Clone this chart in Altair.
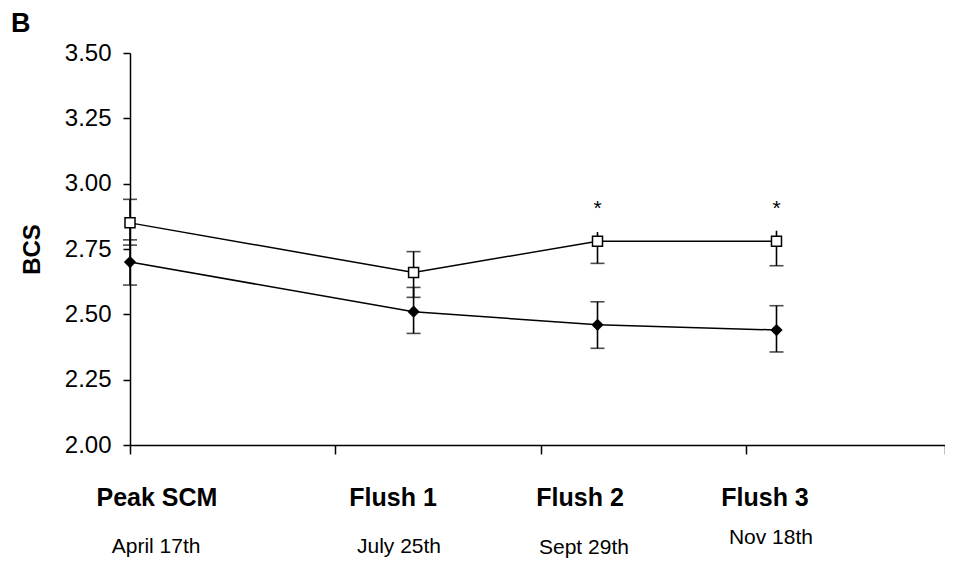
import altair as alt
import pandas as pd

# ---- data ----
timepoints = ["Peak SCM", "Flush 1", "Flush 2", "Flush 3"]
dates = ["April 17th", "July 25th", "Sept 29th", "Nov 18th"]
x_pos = [0.0, 1.38, 2.275, 3.146]          # position of each time point on the x axis

open_mean = [2.85, 2.66, 2.78, 2.78]
open_upper = [2.94, 2.74, 2.815, 2.82]
open_lower = [2.765, 2.565, 2.695, 2.686]

filled_mean = [2.70, 2.51, 2.46, 2.44]
filled_upper = [2.785, 2.603, 2.548, 2.533]
filled_lower = [2.612, 2.427, 2.37, 2.356]

significance = ["", "", "*", "*"]

y_ticks = [2.00, 2.25, 2.50, 2.75, 3.00, 3.25, 3.50]
x_ticks = [0, 1, 2, 3, 3.966]

# ---- label layout (axis units / pixel offsets) ----
label_x = [0.131, 1.28, 2.19, 3.09]
date_x = [0.127, 1.309, 2.209, 3.119]
date_dy = [0, 0, 1, -9]

FONT = "Liberation Sans"

rows = []
for name, m, u, l in [("open", open_mean, open_upper, open_lower),
                      ("filled", filled_mean, filled_upper, filled_lower)]:
    for i in range(len(timepoints)):
        rows.append({"series": name, "time": timepoints[i], "x": x_pos[i],
                     "mean": m[i], "upper": u[i], "lower": l[i]})
df = pd.DataFrame(rows)

caps = []
for r in rows:
    caps.append({"x": r["x"], "cap": r["lower"]})
    if r["upper"] - r["mean"] > 0.05:
        caps.append({"x": r["x"], "cap": r["upper"]})
caps_df = pd.DataFrame(caps)

sig_df = pd.DataFrame({"x": x_pos, "mean": open_mean, "sig": significance})
lab_df = pd.DataFrame({"lx": label_x, "label": timepoints})
date_df = pd.DataFrame({"dx_": date_x, "date": dates, "ddy": date_dy})

xs = alt.Scale(domain=[0, 3.966], nice=False, zero=False)
ys = alt.Scale(domain=[2.0, 3.5], nice=False, zero=False)

x_enc = alt.X("x:Q", scale=xs,
              axis=alt.Axis(values=x_ticks, labels=False, title=None, tickSize=9,
                            domainWidth=1.5, tickWidth=1.5, grid=False))
y_axis = alt.Axis(values=y_ticks, format=".2f", tickSize=7, labelPadding=12,
                  labelFontSize=24, labelFont=FONT, labelColor="black",
                  domainWidth=1.5, tickWidth=1.5, grid=False,
                  title="BCS", titleFont=FONT, titleFontSize=24, titleFontWeight="bold",
                  titleColor="black", titleAngle=-90, titleX=-98, titleY=196,
                  titleAlign="center", titleBaseline="middle")

base = alt.Chart(df)

lines = base.mark_line(color="black", strokeWidth=1.5).encode(
    x=x_enc,
    y=alt.Y("mean:Q", scale=ys, axis=y_axis),
    detail="series:N",
    order="x:Q",
)

err = base.mark_rule(color="black", strokeWidth=1.6).encode(
    x=alt.X("x:Q", scale=xs),
    y=alt.Y("lower:Q", scale=ys),
    y2="upper:Q",
)

cap_marks = alt.Chart(caps_df).mark_tick(orient="horizontal", size=14, thickness=1.6,
                                         color="black").encode(
    x=alt.X("x:Q", scale=xs),
    y=alt.Y("cap:Q", scale=ys),
)

squares = base.transform_filter(alt.datum.series == "open").mark_point(
    shape="square", size=100, filled=True, fill="white", stroke="black",
    strokeWidth=1.5, opacity=1).encode(
    x=alt.X("x:Q", scale=xs),
    y=alt.Y("mean:Q", scale=ys),
)

diamonds = base.transform_filter(alt.datum.series == "filled").mark_point(
    shape="diamond", size=150, filled=True, color="black", opacity=1).encode(
    x=alt.X("x:Q", scale=xs),
    y=alt.Y("mean:Q", scale=ys),
)

stars = alt.Chart(sig_df).mark_text(font=FONT, fontSize=21, color="black",
                                    baseline="alphabetic", dy=-26).encode(
    x=alt.X("x:Q", scale=xs),
    y=alt.Y("mean:Q", scale=ys),
    text="sig:N",
)

cat_labels = alt.Chart(lab_df).mark_text(font=FONT, fontSize=25, fontWeight="bold",
                                         color="black", baseline="alphabetic",
                                         align="center").encode(
    x=alt.X("lx:Q", scale=xs),
    y=alt.value(453),
    text="label:N",
)

date_labels = alt.Chart(date_df).mark_text(font=FONT, fontSize=21, color="black",
                                           baseline="alphabetic", align="center").encode(
    x=alt.X("dx_:Q", scale=xs),
    y=alt.value(500),
    yOffset=alt.YOffset("ddy:Q", scale=None),
    text="date:N",
)

panel = alt.Chart(pd.DataFrame({"t": ["B"]})).mark_text(
    font=FONT, fontSize=27, fontWeight="bold", color="black",
    align="left", baseline="alphabetic").encode(
    x=alt.value(-119), y=alt.value(-21), text="t:N")

chart = alt.layer(lines, err, cap_marks, squares, diamonds, stars,
                  cat_labels, date_labels, panel).properties(
    width=815, height=392,
    autosize=alt.AutoSizeParams(type="none"),
    padding={"left": 122, "top": 45, "right": 0, "bottom": 118},
).configure_view(stroke=None).configure_axis(
    domainColor="black", tickColor="black", labelColor="black")

chart.save("out.html", embed_options={"renderer": "svg", "actions": False})
